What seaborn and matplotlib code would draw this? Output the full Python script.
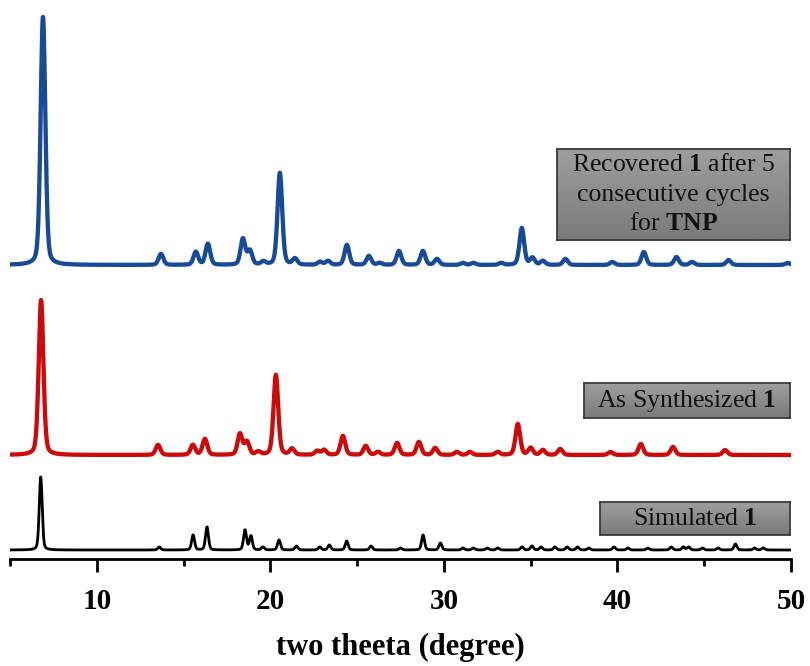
import numpy as np
import pandas as pd
import matplotlib
matplotlib.use("Agg")
import matplotlib.pyplot as plt
import seaborn as sns

# ---- data: peak positions (2theta, deg) and heights (a.u.) ----
blue_pos = [6.90, 13.70, 15.71, 16.40, 18.42, 18.82, 19.6, 20.55, 21.42, 22.86, 23.32,
            24.41, 25.68, 26.3, 27.41, 28.79, 29.6, 31.1, 31.7, 33.3, 34.49, 35.1, 35.7,
            37.0, 39.7, 41.52, 43.4, 44.3, 46.4, 49.8]
blue_int = [248, 11, 13, 21, 26, 14, 3, 92, 6, 3, 4,
            20, 9, 2, 14, 14, 6, 2, 2, 2, 37, 7, 4,
            6, 3, 13, 8, 3, 5, 2]

red_pos = [6.79, 13.53, 15.54, 16.23, 18.25, 18.65, 19.3, 20.32, 21.25, 22.7, 23.1,
           24.18, 25.5, 26.2, 27.3, 28.56, 29.5, 30.75, 31.5, 33.1, 34.26, 35.0, 35.7,
           36.7, 39.6, 41.35, 43.2, 46.2]
red_int = [155, 10, 10, 16, 21, 13, 3, 80, 6, 4, 5,
           19, 9, 3, 12, 13, 7, 3, 3, 3, 31, 7, 5,
           6, 3, 11, 8, 5]

black_pos = [6.77, 13.6, 15.55, 16.35, 18.54, 18.88, 19.57, 20.5, 21.5, 22.85, 23.4,
             24.4, 25.8, 27.5, 28.8, 29.8, 31.1, 31.7, 32.5, 33.1, 34.5, 35.07, 35.6,
             36.4, 37.1, 37.7, 38.35, 39.8, 40.6, 41.75, 43.1, 43.8, 44.1, 44.9, 45.8,
             46.8, 47.9, 48.4]
black_int = [73, 3, 15, 23, 20, 14, 3, 10, 4, 3, 5,
             9, 4, 2, 15, 7, 2, 2, 2, 2, 3, 4, 3,
             3, 3, 3, 2, 3, 2, 2, 3, 3, 3, 2, 2,
             6, 2, 2]

series_names = ["Recovered", "As Synthesized", "Simulated"]
x_ticks = [10, 20, 30, 40, 50]

# ---- styling / layout ----
offsets = {"Recovered": 294, "As Synthesized": 104, "Simulated": 9}
fwhm = {"Recovered": 0.32, "As Synthesized": 0.32, "Simulated": 0.2}
colors = {"Recovered": "#174a97", "As Synthesized": "#cc0a0a", "Simulated": "#000000"}
lws = {"Recovered": 3.1, "As Synthesized": 3.1, "Simulated": 2.0}

tt = np.linspace(5, 50, 6001)


def pattern(pos, inten, w):
    y = np.zeros_like(tt)
    for p, h in zip(pos, inten):
        d = (tt - p) / w
        y += h * (0.7 * np.exp(-4 * np.log(2) * d ** 2) + 0.3 / (1 + 4 * d ** 2))
    return y


peaks = {"Recovered": (blue_pos, blue_int),
         "As Synthesized": (red_pos, red_int),
         "Simulated": (black_pos, black_int)}

frames = []
for name in series_names:
    pos, inten = peaks[name]
    frames.append(pd.DataFrame({"two_theta": tt,
                                "intensity": pattern(pos, inten, fwhm[name]) + offsets[name],
                                "sample": name}))
df = pd.concat(frames, ignore_index=True)

sns.set_theme(style="white")
plt.rcParams["font.family"] = ["Liberation Serif", "DejaVu Serif"]
plt.rcParams["mathtext.fontset"] = "custom"
plt.rcParams["mathtext.rm"] = "Liberation Serif"
plt.rcParams["mathtext.bf"] = "Liberation Serif:bold"
plt.rcParams["text.color"] = "black"
plt.rcParams["xtick.color"] = "black"
plt.rcParams["axes.labelcolor"] = "black"

W, H = 810, 666
fig = plt.figure(figsize=(W / 100, H / 100), dpi=100)
ax_bottom_px = 559
ax = fig.add_axes([10 / W, (H - ax_bottom_px) / H, 781 / W, ax_bottom_px / H])

for name in series_names:
    sub = df[df["sample"] == name]
    sns.lineplot(data=sub, x="two_theta", y="intensity", ax=ax, color=colors[name],
                 linewidth=lws[name], legend=False, estimator=None, sort=False)

ax.set_xlim(5, 50)
ax.set_ylim(0, ax_bottom_px)
ax.set_yticks([])
ax.set_ylabel("")
for s in ["left", "right", "top"]:
    ax.spines[s].set_visible(False)
ax.spines["bottom"].set_linewidth(2.0)
ax.spines["bottom"].set_color("black")
ax.set_xticks(x_ticks)
ax.set_xticks(np.arange(5, 51, 10), minor=True)
ax.tick_params(axis="x", which="major", direction="out", length=9, width=2.0,
               color="black", pad=12, labelsize=21, bottom=True, labelcolor="black")
ax.tick_params(axis="x", which="minor", direction="out", length=5, width=2.0,
               color="black", bottom=True)
for lab in ax.get_xticklabels():
    lab.set_fontweight("bold")
ax.set_xlabel("two theeta (degree)", fontsize=22, fontweight="bold", labelpad=13,
              color="black")


def gradient_box(x0, y0, x1, y1, lines, centers, fs=18.5):
    bax = fig.add_axes([x0 / W, (H - y1) / H, (x1 - x0) / W, (y1 - y0) / H])
    grad = np.linspace(0.62, 0.48, 50).reshape(-1, 1)
    bax.imshow(grad, cmap="gray", vmin=0, vmax=1, aspect="auto",
               extent=[0, 1, 0, 1], origin="upper")
    bax.set_xticks([])
    bax.set_yticks([])
    for s in bax.spines.values():
        s.set_color("#3a3a3a")
        s.set_linewidth(1.3)
        s.set_visible(True)
    for txt, cy in zip(lines, centers):
        fig.text((x0 + x1) / 2 / W, (H - cy) / H, txt, ha="center", va="center",
                 fontsize=fs, color="#111111")


gradient_box(557, 149, 790, 240,
             ["Recovered $\\mathbf{1}$ after 5", "consecutive cycles", "for $\\mathbf{TNP}$"],
             [165, 195, 224])
gradient_box(584, 383, 790, 418, ["As Synthesized $\\mathbf{1}$"], [401])
gradient_box(600, 502, 790, 535, ["Simulated $\\mathbf{1}$"], [519])

fig.savefig("out.png", dpi=100)
